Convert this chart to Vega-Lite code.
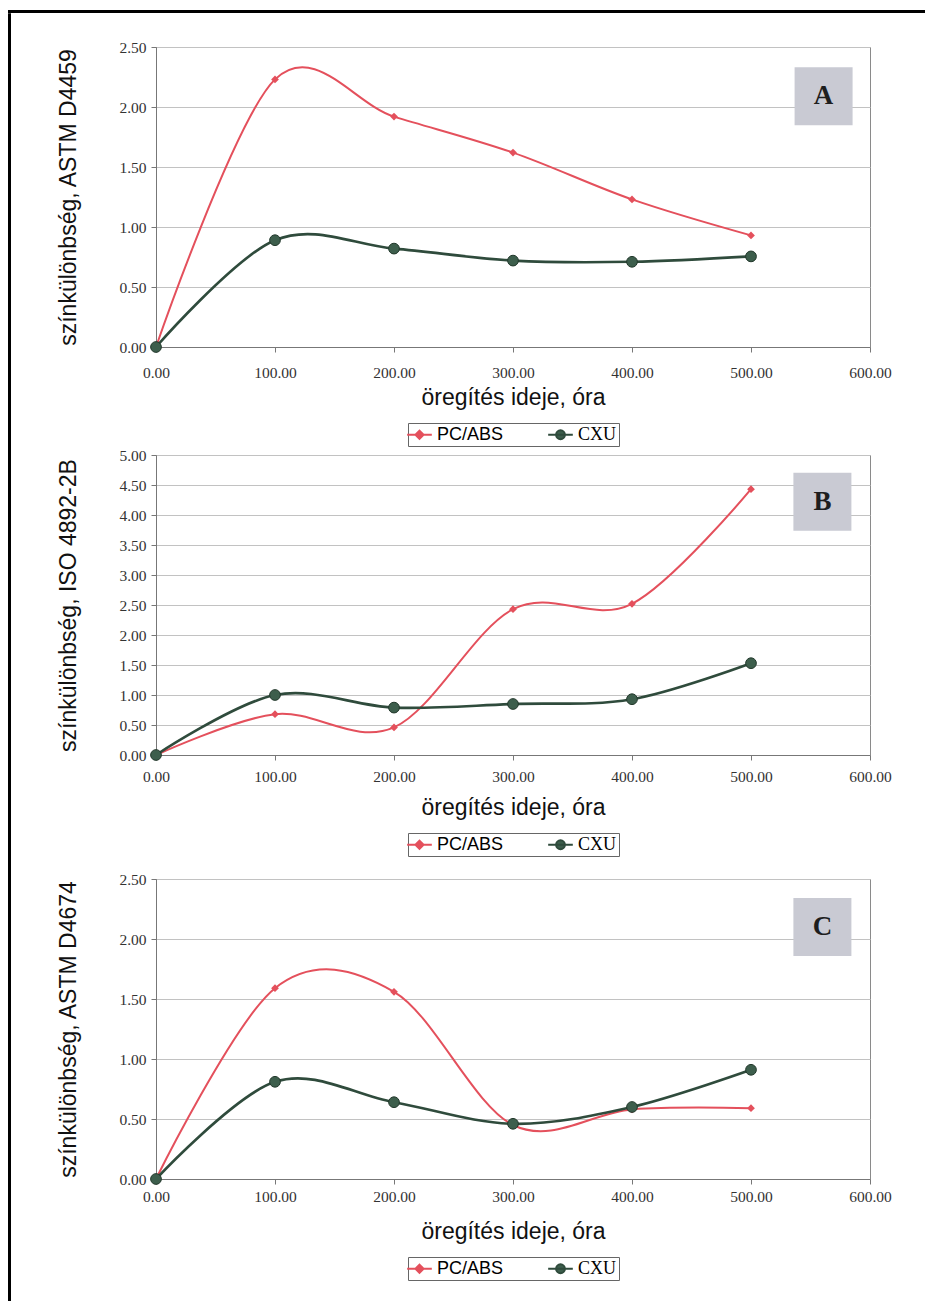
{
  "$schema": "https://vega.github.io/schema/vega-lite/v6.json",
  "background": "white",
  "padding": {"left": 8, "top": 10, "right": 0, "bottom": 0},
  "spacing": 0,
  "datasets": {
    "d": [
      {"panel": "A", "series": "PC/ABS", "t": 0, "v": 0},
      {"panel": "A", "series": "PC/ABS", "t": 100, "v": 2.23},
      {"panel": "A", "series": "PC/ABS", "t": 200, "v": 1.92},
      {"panel": "A", "series": "PC/ABS", "t": 300, "v": 1.62},
      {"panel": "A", "series": "PC/ABS", "t": 400, "v": 1.23},
      {"panel": "A", "series": "PC/ABS", "t": 500, "v": 0.93},
      {"panel": "A", "series": "CXU", "t": 0, "v": 0},
      {"panel": "A", "series": "CXU", "t": 100, "v": 0.89},
      {"panel": "A", "series": "CXU", "t": 200, "v": 0.82},
      {"panel": "A", "series": "CXU", "t": 300, "v": 0.72},
      {"panel": "A", "series": "CXU", "t": 400, "v": 0.71},
      {"panel": "A", "series": "CXU", "t": 500, "v": 0.755},
      {"panel": "B", "series": "PC/ABS", "t": 0, "v": 0},
      {"panel": "B", "series": "PC/ABS", "t": 100, "v": 0.68},
      {"panel": "B", "series": "PC/ABS", "t": 200, "v": 0.46},
      {"panel": "B", "series": "PC/ABS", "t": 300, "v": 2.43},
      {"panel": "B", "series": "PC/ABS", "t": 400, "v": 2.52},
      {"panel": "B", "series": "PC/ABS", "t": 500, "v": 4.43},
      {"panel": "B", "series": "CXU", "t": 0, "v": 0},
      {"panel": "B", "series": "CXU", "t": 100, "v": 1.0},
      {"panel": "B", "series": "CXU", "t": 200, "v": 0.79},
      {"panel": "B", "series": "CXU", "t": 300, "v": 0.85},
      {"panel": "B", "series": "CXU", "t": 400, "v": 0.93},
      {"panel": "B", "series": "CXU", "t": 500, "v": 1.53},
      {"panel": "C", "series": "PC/ABS", "t": 0, "v": 0},
      {"panel": "C", "series": "PC/ABS", "t": 100, "v": 1.59},
      {"panel": "C", "series": "PC/ABS", "t": 200, "v": 1.56},
      {"panel": "C", "series": "PC/ABS", "t": 300, "v": 0.45},
      {"panel": "C", "series": "PC/ABS", "t": 400, "v": 0.58},
      {"panel": "C", "series": "PC/ABS", "t": 500, "v": 0.59},
      {"panel": "C", "series": "CXU", "t": 0, "v": 0},
      {"panel": "C", "series": "CXU", "t": 100, "v": 0.81},
      {"panel": "C", "series": "CXU", "t": 200, "v": 0.64},
      {"panel": "C", "series": "CXU", "t": 300, "v": 0.46},
      {"panel": "C", "series": "CXU", "t": 400, "v": 0.6},
      {"panel": "C", "series": "CXU", "t": 500, "v": 0.91}
    ]
  },
  "vconcat": [
    {
      "data": {"values": [{"frame": "top"}]},
      "width": 917, "height": 3,
      "view": {"stroke": null, "fill": "black"},
      "mark": {"type": "rect", "color": "black"}
    },
    {
      "spacing": 46,
      "hconcat": [
        {
          "data": {"values": [{"frame": "left"}]},
          "width": 3, "height": 1254,
          "view": {"stroke": null},
          "mark": {"type": "rect", "color": "black"},
          "encoding": {
            "y": {"datum": 0, "type": "quantitative", "scale": {"domain": [0, 1], "nice": false}, "axis": null},
            "y2": {"datum": 1.027}
          }
        },
        {
          "spacing": 0,
          "resolve": {
            "scale": {"shape": "independent", "fill": "independent", "stroke": "independent"},
            "legend": {"shape": "independent", "fill": "independent", "stroke": "independent"}
          },
          "vconcat": [
            {
              "data": {"name": "d"},
              "transform": [{"filter": "datum.panel === 'A'"}],
              "width": 714, "height": 300,
              "title": {"text": " ", "fontSize": 16, "offset": 9},
              "encoding": {
                "x": {"field": "t", "type": "quantitative", "scale": {"domain": [0, 600], "nice": false}, "axis": {"title": "öregítés ideje, óra", "values": [0, 100, 200, 300, 400, 500, 600], "format": ".2f", "labelPadding": 13, "titlePadding": 6}},
                "y": {"field": "v", "type": "quantitative", "scale": {"domain": [0, 2.5], "nice": false}, "axis": {"title": "színkülönbség, ASTM D4459", "values": [0, 0.5, 1, 1.5, 2, 2.5], "format": ".2f"}}
              },
              "layer": [
                {"transform": [{"filter": "datum.t === 0 && datum.series === 'CXU'"}], "mark": {"type": "square", "size": 3364, "color": "#c9cad3", "opacity": 1, "filled": true}, "encoding": {"x": {"datum": 561, "type": "quantitative"}, "y": {"datum": 2.09, "type": "quantitative"}}},
                {"transform": [{"filter": "datum.t === 0 && datum.series === 'CXU'"}], "mark": {"type": "text", "font": "Liberation Serif", "fontWeight": "bold", "fontSize": 27, "color": "#1e1e1e", "align": "center", "baseline": "middle"}, "encoding": {"x": {"datum": 561, "type": "quantitative"}, "y": {"datum": 2.09, "type": "quantitative"}, "text": {"field": "panel"}}},
                {"transform": [{"filter": "datum.series === 'PC/ABS'"}], "mark": {"type": "line", "interpolate": "cardinal", "tension": 0, "color": "#e4505c", "strokeWidth": 2}},
                {"transform": [{"filter": "datum.series === 'CXU'"}], "mark": {"type": "line", "interpolate": "cardinal", "tension": 0, "color": "#2f4b3c", "strokeWidth": 2.6}},
                {"transform": [{"filter": "datum.series === 'PC/ABS'"}], "mark": {"type": "point", "shape": "diamond", "filled": true, "size": 60, "color": "#e4505c", "opacity": 1}},
                {"transform": [{"filter": "datum.series === 'CXU'"}], "mark": {"type": "point", "shape": "circle", "filled": true, "size": 115, "fill": "#3d5e4c", "stroke": "#22382b", "strokeWidth": 1, "opacity": 1}},
                {
                  "data": {"values": []},
                  "mark": {"type": "point", "filled": true, "opacity": 1},
                  "encoding": {
                    "shape": {"field": "series", "type": "nominal", "scale": {"domain": ["PC/ABS", "CXU"], "range": ["M-1.45,0L1.45,0M0,-0.48L0.48,0L0,0.48L-0.48,0Z", "M-1.45,0L1.45,0M0.52,0A0.52,0.52,0,1,1,-0.52,0A0.52,0.52,0,1,1,0.52,0Z"]}, "legend": {"title": null, "labelFont": {"expr": "datum.label === 'CXU' ? 'Liberation Serif' : 'Liberation Sans'"}}},
                    "fill": {"field": "series", "type": "nominal", "scale": {"domain": ["PC/ABS", "CXU"], "range": ["#e4505c", "#3d5e4c"]}, "legend": {"title": null, "labelFont": {"expr": "datum.label === 'CXU' ? 'Liberation Serif' : 'Liberation Sans'"}}},
                    "stroke": {"field": "series", "type": "nominal", "scale": {"domain": ["PC/ABS", "CXU"], "range": ["#e4505c", "#2f4b3c"]}, "legend": {"title": null, "labelFont": {"expr": "datum.label === 'CXU' ? 'Liberation Serif' : 'Liberation Sans'"}}}
                  }
                }
              ]
            },
            {
              "data": {"name": "d"},
              "transform": [{"filter": "datum.panel === 'B'"}],
              "width": 714, "height": 300,
              "encoding": {
                "x": {"field": "t", "type": "quantitative", "scale": {"domain": [0, 600], "nice": false}, "axis": {"title": "öregítés ideje, óra", "values": [0, 100, 200, 300, 400, 500, 600], "format": ".2f", "labelPadding": 9, "titlePadding": 12}},
                "y": {"field": "v", "type": "quantitative", "scale": {"domain": [0, 5], "nice": false}, "axis": {"title": "színkülönbség, ISO 4892-2B", "values": [0, 0.5, 1, 1.5, 2, 2.5, 3, 3.5, 4, 4.5, 5], "format": ".2f"}}
              },
              "layer": [
                {"transform": [{"filter": "datum.t === 0 && datum.series === 'CXU'"}], "mark": {"type": "square", "size": 3364, "color": "#c9cad3", "opacity": 1, "filled": true}, "encoding": {"x": {"datum": 560, "type": "quantitative"}, "y": {"datum": 4.22, "type": "quantitative"}}},
                {"transform": [{"filter": "datum.t === 0 && datum.series === 'CXU'"}], "mark": {"type": "text", "font": "Liberation Serif", "fontWeight": "bold", "fontSize": 27, "color": "#1e1e1e", "align": "center", "baseline": "middle"}, "encoding": {"x": {"datum": 560, "type": "quantitative"}, "y": {"datum": 4.22, "type": "quantitative"}, "text": {"field": "panel"}}},
                {"transform": [{"filter": "datum.series === 'PC/ABS'"}], "mark": {"type": "line", "interpolate": "cardinal", "tension": 0, "color": "#e4505c", "strokeWidth": 2}},
                {"transform": [{"filter": "datum.series === 'CXU'"}], "mark": {"type": "line", "interpolate": "cardinal", "tension": 0, "color": "#2f4b3c", "strokeWidth": 2.6}},
                {"transform": [{"filter": "datum.series === 'PC/ABS'"}], "mark": {"type": "point", "shape": "diamond", "filled": true, "size": 60, "color": "#e4505c", "opacity": 1}},
                {"transform": [{"filter": "datum.series === 'CXU'"}], "mark": {"type": "point", "shape": "circle", "filled": true, "size": 115, "fill": "#3d5e4c", "stroke": "#22382b", "strokeWidth": 1, "opacity": 1}},
                {
                  "data": {"values": []},
                  "mark": {"type": "point", "filled": true, "opacity": 1},
                  "encoding": {
                    "shape": {"field": "series", "type": "nominal", "scale": {"domain": ["PC/ABS", "CXU"], "range": ["M-1.45,0L1.45,0M0,-0.48L0.48,0L0,0.48L-0.48,0Z", "M-1.45,0L1.45,0M0.52,0A0.52,0.52,0,1,1,-0.52,0A0.52,0.52,0,1,1,0.52,0Z"]}, "legend": {"title": null, "labelFont": {"expr": "datum.label === 'CXU' ? 'Liberation Serif' : 'Liberation Sans'"}}},
                    "fill": {"field": "series", "type": "nominal", "scale": {"domain": ["PC/ABS", "CXU"], "range": ["#e4505c", "#3d5e4c"]}, "legend": {"title": null, "labelFont": {"expr": "datum.label === 'CXU' ? 'Liberation Serif' : 'Liberation Sans'"}}},
                    "stroke": {"field": "series", "type": "nominal", "scale": {"domain": ["PC/ABS", "CXU"], "range": ["#e4505c", "#2f4b3c"]}, "legend": {"title": null, "labelFont": {"expr": "datum.label === 'CXU' ? 'Liberation Serif' : 'Liberation Sans'"}}}
                  }
                }
              ]
            },
            {
              "data": {"name": "d"},
              "transform": [{"filter": "datum.panel === 'C'"}],
              "width": 714, "height": 300,
              "title": {"text": " ", "fontSize": 10, "offset": 4},
              "encoding": {
                "x": {"field": "t", "type": "quantitative", "scale": {"domain": [0, 600], "nice": false}, "axis": {"title": "öregítés ideje, óra", "values": [0, 100, 200, 300, 400, 500, 600], "format": ".2f", "labelPadding": 5, "titlePadding": 16}},
                "y": {"field": "v", "type": "quantitative", "scale": {"domain": [0, 2.5], "nice": false}, "axis": {"title": "színkülönbség, ASTM D4674", "values": [0, 0.5, 1, 1.5, 2, 2.5], "format": ".2f"}}
              },
              "layer": [
                {"transform": [{"filter": "datum.t === 0 && datum.series === 'CXU'"}], "mark": {"type": "square", "size": 3364, "color": "#c9cad3", "opacity": 1, "filled": true}, "encoding": {"x": {"datum": 560, "type": "quantitative"}, "y": {"datum": 2.1, "type": "quantitative"}}},
                {"transform": [{"filter": "datum.t === 0 && datum.series === 'CXU'"}], "mark": {"type": "text", "font": "Liberation Serif", "fontWeight": "bold", "fontSize": 27, "color": "#1e1e1e", "align": "center", "baseline": "middle"}, "encoding": {"x": {"datum": 560, "type": "quantitative"}, "y": {"datum": 2.1, "type": "quantitative"}, "text": {"field": "panel"}}},
                {"transform": [{"filter": "datum.series === 'PC/ABS'"}], "mark": {"type": "line", "interpolate": "cardinal", "tension": 0, "color": "#e4505c", "strokeWidth": 2}},
                {"transform": [{"filter": "datum.series === 'CXU'"}], "mark": {"type": "line", "interpolate": "cardinal", "tension": 0, "color": "#2f4b3c", "strokeWidth": 2.6}},
                {"transform": [{"filter": "datum.series === 'PC/ABS'"}], "mark": {"type": "point", "shape": "diamond", "filled": true, "size": 60, "color": "#e4505c", "opacity": 1}},
                {"transform": [{"filter": "datum.series === 'CXU'"}], "mark": {"type": "point", "shape": "circle", "filled": true, "size": 115, "fill": "#3d5e4c", "stroke": "#22382b", "strokeWidth": 1, "opacity": 1}},
                {
                  "data": {"values": []},
                  "mark": {"type": "point", "filled": true, "opacity": 1},
                  "encoding": {
                    "shape": {"field": "series", "type": "nominal", "scale": {"domain": ["PC/ABS", "CXU"], "range": ["M-1.45,0L1.45,0M0,-0.48L0.48,0L0,0.48L-0.48,0Z", "M-1.45,0L1.45,0M0.52,0A0.52,0.52,0,1,1,-0.52,0A0.52,0.52,0,1,1,0.52,0Z"]}, "legend": {"title": null, "labelFont": {"expr": "datum.label === 'CXU' ? 'Liberation Serif' : 'Liberation Sans'"}}},
                    "fill": {"field": "series", "type": "nominal", "scale": {"domain": ["PC/ABS", "CXU"], "range": ["#e4505c", "#3d5e4c"]}, "legend": {"title": null, "labelFont": {"expr": "datum.label === 'CXU' ? 'Liberation Serif' : 'Liberation Sans'"}}},
                    "stroke": {"field": "series", "type": "nominal", "scale": {"domain": ["PC/ABS", "CXU"], "range": ["#e4505c", "#2f4b3c"]}, "legend": {"title": null, "labelFont": {"expr": "datum.label === 'CXU' ? 'Liberation Serif' : 'Liberation Sans'"}}}
                  }
                }
              ]
            }
          ]
        }
      ]
    }
  ],
  "config": {
    "font": "Liberation Sans",
    "view": {"stroke": "#8a8a8a", "strokeWidth": 1},
    "axis": {
      "labelFont": "Liberation Serif", "labelFontSize": 15.5, "labelColor": "#333",
      "titleFont": "Liberation Sans", "titleFontSize": 23, "titleFontWeight": "normal", "titleColor": "#111",
      "tickColor": "#777", "domainColor": "#777", "gridColor": "#c2c2c2", "tickSize": 5,
      "labelPadding": 5, "labelOverlap": false, "labelFlush": false
    },
    "axisX": {"grid": false, "titlePadding": 12},
    "axisY": {"titlePadding": 38},
    "legend": {
      "orient": "bottom", "direction": "horizontal", "strokeColor": "#666", "padding": 2, "offset": 13,
      "columnPadding": 40, "labelOffset": 8, "symbolSize": 289, "symbolStrokeWidth": 2,
      "labelFontSize": 18, "labelColor": "#000",
      "layout": {"anchor": "middle", "bottom": {"anchor": "middle"}}
    }
  }
}
